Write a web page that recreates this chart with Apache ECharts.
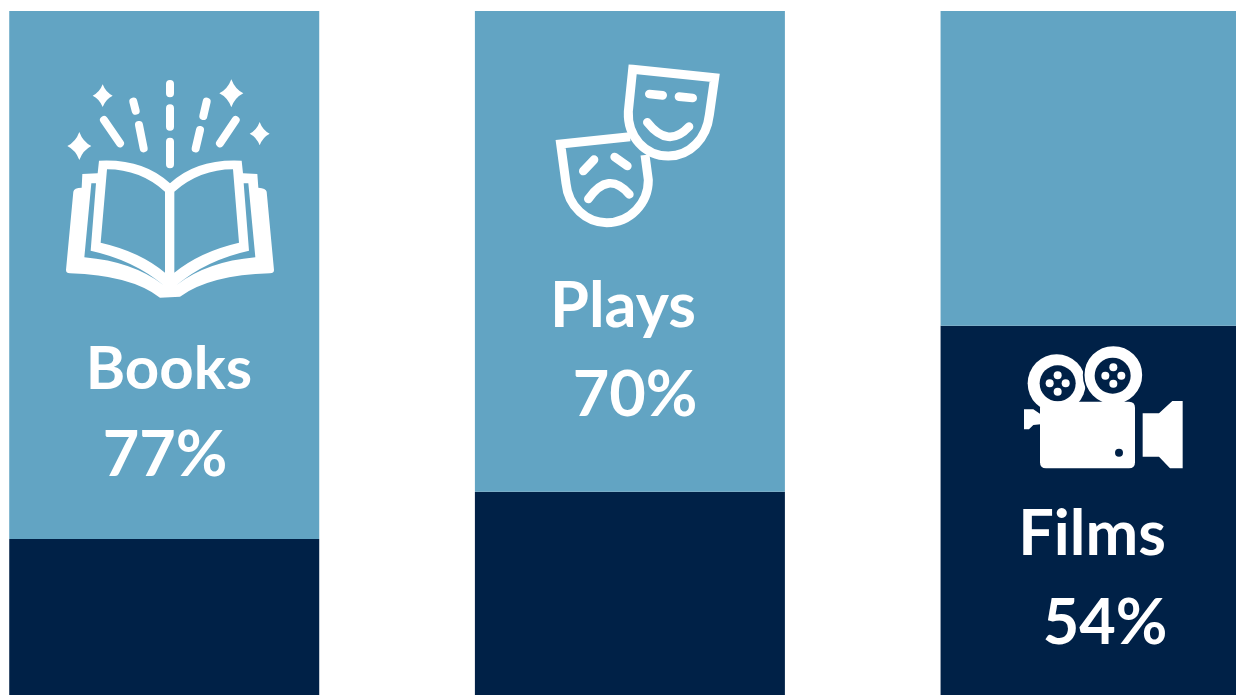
<!DOCTYPE html>
<html><head><meta charset="utf-8">
<style>html,body{margin:0;padding:0;background:#fff}#c{width:1236px;height:695px}</style>
<script src="https://cdn.jsdelivr.net/npm/echarts@6/dist/echarts.min.js"></script>
</head><body><div id="c"></div>
<script>
const categories = ['Books', 'Plays', 'Films'];
const shareValues = [77, 70, 54];
const lightValues = [77.2, 70.3, 46];
const darkValues = [22.8, 29.7, 54];
const LIGHT = '#62A4C3', DARK = '#002147', WHITE = '#FFFFFF';
const FONT = 'Lato, "Noto Sans", sans-serif';

function star(cx, cy, rx, ry) {
  const kx = rx * 0.3, ky = ry * 0.3;
  return `M${cx} ${cy-ry}Q${cx+kx} ${cy-ky} ${cx+rx} ${cy}Q${cx+kx} ${cy+ky} ${cx} ${cy+ry}Q${cx-kx} ${cy+ky} ${cx-rx} ${cy}Q${cx-kx} ${cy-ky} ${cx} ${cy-ry}Z`;
}
const fillP = (d, fill) => ({type:'path', silent:true, shape:{pathData:d}, style:{fill, stroke:null}});
const lineP = (d, w, stroke, cap, join) => ({type:'path', silent:true, shape:{pathData:d},
  style:{fill:null, stroke, lineWidth:w, lineCap:cap||'round', lineJoin:join||'miter'}});
const circ = (cx, cy, r, fill, stroke, lw) => ({type:'circle', silent:true, shape:{cx, cy, r},
  style:{fill, stroke:stroke||null, lineWidth:lw||0}});
const scaled = (x, y, children) => ({type:'group', x, y, scaleX:1/3, scaleY:1/3, children});

const bookIcon = scaled(50, 70, [
  fillP('M48 600L70 365Q72 353 95 353L97 312L143 310L147 272Q280 265 360 340Q440 265 575 272L579 310L622 312L625 353Q648 355 650 365L672 600Q672 610 660 610Q480 615 390 680L330 683Q240 615 60 610Q48 610 48 600Z', WHITE),
  fillP('M171 298Q270 298 345 365L345 608Q270 545 152 518Z', LIGHT),
  fillP('M549 298Q450 298 373 365L373 608Q450 545 567 518Z', LIGHT),
  fillP('M124 340L138 340L122 542Q250 570 340 645Q250 575 103 562Z', LIGHT),
  fillP('M581 340L595 340L616 562Q470 575 380 645Q470 570 597 542Z', LIGHT),
  lineP('M360 42L360 70M360 115L360 170M360 215L360 283M250 95L257 122M267 165L281 235M470 95L460 138M450 180L437 235M162 150L210 220M557 150L510 220', 24, WHITE),
  fillP(star(88, 228, 36, 42) + star(158, 77, 30, 34) + star(544, 70, 36, 42) + star(629, 191, 30, 35), WHITE)
]);

const masksIcon = scaled(540, 55, [
  lineP('M278 43L524 68L508 180C500 250 450 303 385 303C315 303 262 245 265 170Z', 27, WHITE, 'butt'),
  lineP('M270 245L62 267L78 385C85 455 140 503 200 503C270 503 325 445 325 375L315 300', 27, WHITE, 'butt'),
  lineP('M328 117L368 121M417 125L458 129M322 202Q385 282 447 215M130 348L162 314M224 306L262 333M145 432Q205 345 268 418', 26, WHITE)
]);

const cameraIcon = scaled(1010, 335, [
  circ(140, 145, 87, WHITE),
  circ(310, 120, 89, WHITE, DARK, 5),
  circ(143, 145, 54, DARK),
  circ(308, 122, 54, DARK),
  circ(143, 121, 12, WHITE), circ(119, 145, 12, WHITE), circ(167, 145, 12, WHITE), circ(143, 170, 12, WHITE),
  circ(310, 97, 12, WHITE), circ(286, 122, 12, WHITE), circ(334, 122, 12, WHITE), circ(310, 146, 12, WHITE),
  fillP('M108 200L357 200Q375 200 375 218L375 382Q375 400 357 400L108 400Q90 400 90 382L90 218Q90 200 108 200Z', WHITE),
  fillP('M42 223L70 223L92 238L92 268L70 270L57 283L42 283Z', WHITE),
  circ(327, 353, 12, DARK),
  fillP('M398 235L447 235L487 198L518 198L518 400L480 400L447 365L398 365Z', WHITE)
]);

const textEl = (text, x, y, size) => ({type:'text', silent:true, x, y, z:10,
  style:{text, fill:WHITE, font:`700 ${size}px ${FONT}`, textAlign:'center', textVerticalAlign:'middle'}});

const option = {
  animation: false,
  backgroundColor: WHITE,
  grid: {left: -68.6, top: 11, width: 1397, bottom: 0, containLabel: false, outerBoundsMode: 'none'},
  xAxis: {type:'category', data: categories, show:false},
  yAxis: {type:'value', min:0, max:100, show:false},
  series: [
    {type:'bar', stack:'s', data: darkValues, barWidth:310, itemStyle:{color:DARK}, silent:true},
    {type:'bar', stack:'s', data: lightValues, barWidth:310, itemStyle:{color:LIGHT}, silent:true},
    {type:'custom', coordinateSystem:'none', data:[0], silent:true, z:5,
     renderItem: () => ({type:'group', children:[bookIcon, masksIcon, cameraIcon]})}
  ],
  graphic: {elements: [
    textEl(categories[0], 169, 370, 60),
    textEl(shareValues[0] + '%', 165, 456, 63),
    textEl(categories[1], 623, 307, 63),
    textEl(shareValues[1] + '%', 635, 396, 63),
    textEl(categories[2], 1092, 535, 63),
    textEl(shareValues[2] + '%', 1105, 624, 63)
  ]}
};
echarts.init(document.getElementById('c'), null, {renderer:'canvas'}).setOption(option);
</script></body></html>
